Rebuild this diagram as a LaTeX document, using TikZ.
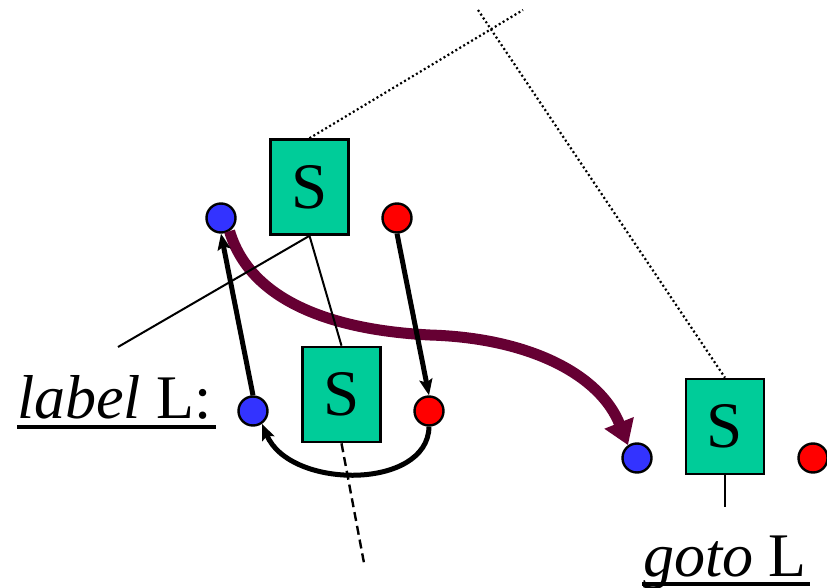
\documentclass[tikz,border=0pt]{standalone}
\usepackage{fontspec}
\setmainfont{Liberation Serif}
\usetikzlibrary{arrows.meta}
\definecolor{boxgreen}{RGB}{0,204,153}
\definecolor{dotblue}{RGB}{51,51,255}
\definecolor{dotred}{RGB}{255,0,0}
\definecolor{flowmaroon}{RGB}{102,0,51}
\begin{document}
\begin{tikzpicture}[x=1pt,y=-1pt,
  sbox/.style={draw=black, line width=2.6pt, fill=boxgreen, minimum width=78pt, minimum height=95pt, inner sep=0pt, font=\fontsize{65}{65}\selectfont},
  bdot/.style={circle, draw=black, line width=2.4pt, fill=dotblue, minimum size=29pt, inner sep=0pt},
  rdot/.style={circle, draw=black, line width=2.4pt, fill=dotred, minimum size=29pt, inner sep=0pt},
  thinline/.style={line width=2pt},
  thickarrow/.style={line width=5pt, -{Stealth[length=16pt,width=13pt,inset=3pt]}},
  flow/.style={draw=flowmaroon, line width=11pt, -{Triangle[length=24pt,width=30pt]}},
  dotline/.style={line width=2.2pt, dash pattern=on 2pt off 2.6pt},
  dashline/.style={line width=2.4pt, dash pattern=on 9pt off 5pt},
  txt/.style={inner sep=0pt, anchor=base west, font=\fontsize{62}{62}\selectfont}]
\useasboundingbox (0,0) rectangle (827,588);

% nodes
\node[sbox] (ts) at (309.5,187) {S};
\node[sbox] (ms) at (341.5,394.5) {S};
\node[sbox] (rs) at (725,426.5) {S};
\node[bdot] (bt) at (221,218) {};
\node[rdot] (rt) at (397,218) {};
\node[bdot] (bm) at (253,411) {};
\node[rdot] (rm) at (429,411) {};
\node[bdot] (br) at (637,458) {};
\node[rdot] (rr) at (813,458) {};
\node[txt] (lab) at (17,418) {\textit{label} L:};
\node[txt] (gto) at (643,576) {\textit{goto} L};

\coordinate (dotA) at (523,10);
\coordinate (dotB) at (478,10);
\coordinate (thinEnd) at (118,347);
\coordinate (dashEnd) at (364,563);
\coordinate (gotoEnd) at (725,507);

% underlines
\draw[line width=4.5pt] ([yshift=-9pt]lab.base west) -- ([yshift=-9pt,xshift=4pt]lab.base east);
\draw[line width=4.5pt] ([yshift=-8pt,xshift=-1pt]gto.base west) -- ([yshift=-8pt,xshift=3pt]gto.base east);

% maroon flow arrow
\draw[flow] (bt.-57) .. controls (250,300) and (330,330) .. (430,335)
  .. controls (530,338) and (600,375) .. (br.125);

% dotted lines
\draw[dotline] (ts.north) -- (dotA);
\draw[dotline] (dotB) -- (rs.north);

% thin lines
\draw[thinline] (ts.south) -- (thinEnd);
\draw[thinline] (ts.south) -- (ms.north);
\draw[thinline] (rs.south) -- (gotoEnd);
\draw[dashline] (ms.south) -- (dashEnd);

% thick black arrows
\draw[thickarrow] (bm.north) -- (bt.south);
\draw[thickarrow] (rt.south) -- (rm.north);
\draw[thickarrow] (rm.south) .. controls (428,490) and (290,490) .. (bm.-55);
\end{tikzpicture}
\end{document}
